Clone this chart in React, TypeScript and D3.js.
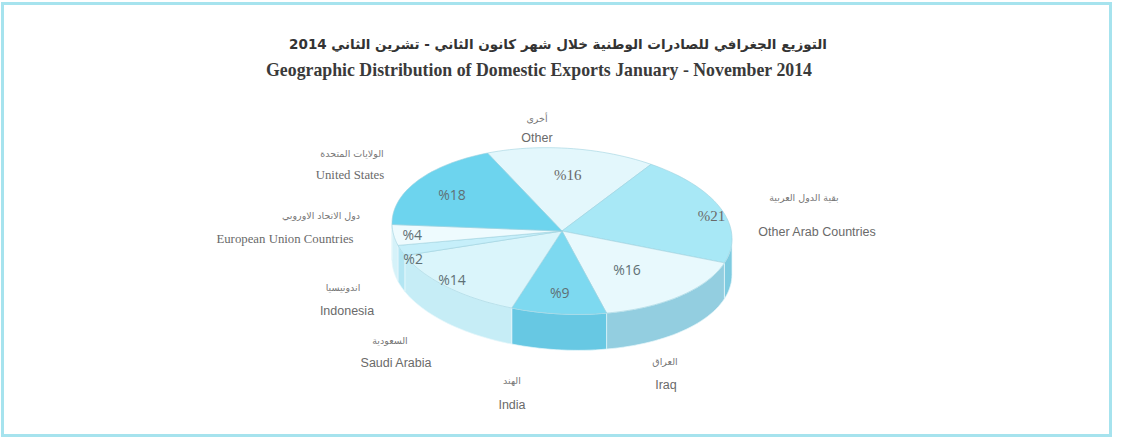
import * as d3 from "d3";
import * as React from "react";

// data
const categoriesEn = [
  "Other",
  "Other Arab Countries",
  "Iraq",
  "India",
  "Saudi Arabia",
  "Indonesia",
  "European Union Countries",
  "United States",
];
const categoriesAr = [
  "أخرى",
  "بقية الدول العربية",
  "العراق",
  "الهند",
  "السعودية",
  "اندونيسيا",
  "دول الاتحاد الاوروبي",
  "الولايات المتحدة",
];
const shares = [16, 21, 16, 9, 14, 2, 4, 18];

const titleAr =
  "التوزيع الجغرافي للصادرات الوطنية  خلال شهر كانون الثاني - تشرين الثاني 2014";
const titleEn =
  "Geographic Distribution of Domestic Exports January - November 2014";

// styles
const topColors = ["#e3f7fc", "#a8e8f6", "#e8f9fd", "#7dd9f0", "#daf5fb", "#c6effa", "#eefbfe", "#6dd4ee"];
const sideColors = ["#bfe7f1", "#7ecbe0", "#93cee0", "#67c8e3", "#c6edf6", "#b3e6f3", "#d5f2f9", "#5cc2de"];
const serifPct = [true, true, false, false, false, false, false, false];
const serifName = [false, false, false, false, false, false, true, true];

// label layout (text placement only)
const pctRadius = [0.68, 0.94, 0.55, 0.75, 0.96, 0.925, 0.89, 0.76];
const pctDy = [0, 5, 3, 0, -5, 10, 1, 2];
const nameLayout = [
  { xAr: 537, yAr: 122, xEn: 537, yEn: 142 },
  { xAr: 804, yAr: 201, xEn: 817, yEn: 236 },
  { xAr: 665, yAr: 365, xEn: 666, yEn: 389 },
  { xAr: 512, yAr: 384, xEn: 512, yEn: 409 },
  { xAr: 390, yAr: 344, xEn: 396, yEn: 367 },
  { xAr: 343, yAr: 291, xEn: 347, yEn: 315 },
  { xAr: 321, yAr: 219, xEn: 285, yEn: 243 },
  { xAr: 352, yAr: 157, xEn: 350, yEn: 179 },
];

const W = 1124;
const H = 439;
const cx = 562;
const cy = 231;
const rx = 170;
const ry = 83;
const depth = 36;
const skew = 0.045;

export default function App() {
  const ref = React.useRef<SVGSVGElement>(null);

  React.useEffect(() => {
    const svg = d3.select(ref.current as SVGSVGElement);
    svg.selectAll("*").remove();

    svg
      .append("rect")
      .attr("x", 0)
      .attr("y", 0)
      .attr("width", W)
      .attr("height", H)
      .attr("fill", "#ffffff");
    svg
      .append("rect")
      .attr("x", 2.5)
      .attr("y", 3.5)
      .attr("width", 1108)
      .attr("height", 432)
      .attr("fill", "none")
      .attr("stroke", "#a6e3ee")
      .attr("stroke-width", 3);

    // titles
    svg
      .append("text")
      .attr("x", 558)
      .attr("y", 49)
      .attr("text-anchor", "middle")
      .attr("direction", "rtl")
      .attr("font-family", "DejaVu Sans")
      .attr("font-weight", "bold")
      .attr("font-size", 13.5)
      .attr("fill", "#333")
      .text(titleAr);
    svg
      .append("text")
      .attr("x", 539)
      .attr("y", 76)
      .attr("text-anchor", "middle")
      .attr("font-family", "Liberation Serif")
      .attr("font-weight", "bold")
      .attr("font-size", 17.8)
      .attr("fill", "#3a3a3a")
      .text(titleEn);

    const pie = d3
      .pie<number>()
      .sort(null)
      .startAngle((-26 * Math.PI) / 180)
      .endAngle((-26 * Math.PI) / 180 + 2 * Math.PI);
    const arcs = pie(shares);

    const pt = (a: number, f = 1): [number, number] => [
      rx * f * Math.sin(a),
      -ry * f * Math.cos(a),
    ];
    const samples = (a0: number, a1: number) => {
      const n = Math.max(2, Math.ceil(((a1 - a0) * 180) / Math.PI / 2));
      return d3.range(n + 1).map((i) => a0 + ((a1 - a0) * i) / n);
    };
    const line = d3.line();

    const g = svg
      .append("g")
      .attr("transform", `translate(${cx},${cy}) matrix(1,${skew},0,1,0,0)`);

    // sides (front half only)
    arcs.forEach((d, i) => {
      const a0 = Math.max(d.startAngle, Math.PI / 2);
      const a1 = Math.min(d.endAngle, (3 * Math.PI) / 2);
      if (a1 <= a0) return;
      const top = samples(a0, a1).map((a) => pt(a));
      const bottom = top.map(([x, y]) => [x, y + depth] as [number, number]).reverse();
      g.append("path")
        .attr("d", line(top.concat(bottom)) + "Z")
        .attr("fill", sideColors[i])
        .attr("stroke", "#e6f7fb")
        .attr("stroke-width", 0.7);
    });

    // top faces
    arcs.forEach((d, i) => {
      const pts = [[0, 0] as [number, number]].concat(
        samples(d.startAngle, d.endAngle).map((a) => pt(a))
      );
      g.append("path")
        .attr("d", line(pts) + "Z")
        .attr("fill", topColors[i])
        .attr("stroke", "#9fd3e0")
        .attr("stroke-width", 0.6)
        .attr("stroke-linejoin", "round");
    });

    // percent labels
    arcs.forEach((d, i) => {
      const m = (d.startAngle + d.endAngle) / 2;
      const [x, y] = pt(m, pctRadius[i]);
      svg
        .append("text")
        .attr("x", cx + x)
        .attr("y", cy + y + skew * x + pctDy[i])
        .attr("dy", "0.35em")
        .attr("text-anchor", "middle")
        .attr("font-family", serifPct[i] ? "Liberation Serif" : "Open Sans")
        .attr("font-size", serifPct[i] ? 15 : 14)
        .attr("fill", serifPct[i] ? "#6a6a6a" : "#5f7075")
        .text("%" + shares[i]);
    });

    // category labels
    categoriesEn.forEach((name, i) => {
      const L = nameLayout[i];
      svg
        .append("text")
        .attr("x", L.xAr)
        .attr("y", L.yAr)
        .attr("text-anchor", "middle")
        .attr("direction", "rtl")
        .attr("font-family", "DejaVu Sans")
        .attr("font-size", 9.5)
        .attr("fill", "#777")
        .text(categoriesAr[i]);
      svg
        .append("text")
        .attr("x", L.xEn)
        .attr("y", L.yEn)
        .attr("text-anchor", "middle")
        .attr("font-family", serifName[i] ? "Liberation Serif" : "Liberation Sans")
        .attr("font-size", serifName[i] ? 12.8 : 12.5)
        .attr("fill", "#6a6a6a")
        .text(name);
    });
  }, []);

  return (
    <svg
      ref={ref}
      width={W}
      height={H}
      style={{ position: "absolute", left: 0, top: 0, display: "block" }}
    />
  );
}
